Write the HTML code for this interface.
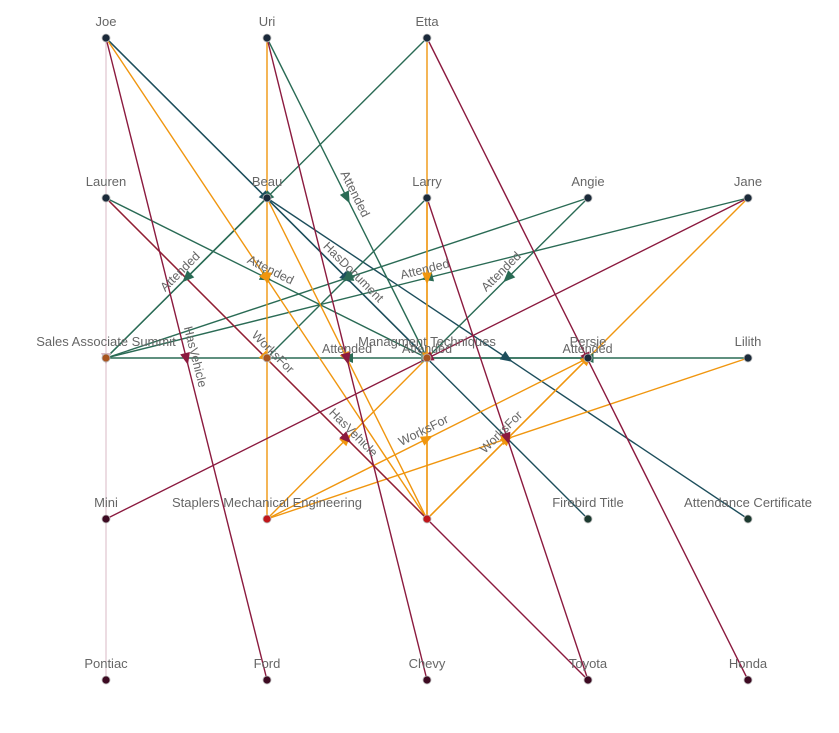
<!DOCTYPE html>
<html><head><meta charset="utf-8"><style>
html,body{margin:0;padding:0;background:#fff;}
svg{display:block;font-family:"Liberation Sans",sans-serif;}
</style></head><body>
<svg id="s" width="839" height="733" viewBox="0 0 839 733" xmlns="http://www.w3.org/2000/svg"></svg>
<script>
var N={J:[106,38,'Joe','#1b2a3a'],U:[267,38,'Uri','#1b2a3a'],E:[427,38,'Etta','#1b2a3a'],
La:[106,198,'Lauren','#1b2a3a'],B:[267,198,'Beau','#1b2a3a'],Lr:[427,198,'Larry','#1b2a3a'],An:[588,198,'Angie','#1b2a3a'],Ja:[748,198,'Jane','#1b2a3a'],
S:[106,358,'Sales Associate Summit','#a8541f'],W:[267,358,'','#a8541f'],M:[427,358,'Managment Techniques','#a8541f'],P:[588,358,'Persie','#1b2a3a'],Li:[748,358,'Lilith','#1b2a3a'],
Mi:[106,519,'Mini','#3d0a22'],St:[267,519,'Staplers Mechanical Engineering','#c0161a'],ME:[427,519,'','#c0161a'],F:[588,519,'Firebird Title','#1c3a30'],AC:[748,519,'Attendance Certificate','#1c3a30'],
Po:[106,680,'Pontiac','#3d0a22'],Fo:[267,680,'Ford','#3d0a22'],Ch:[427,680,'Chevy','#3d0a22'],To:[588,680,'Toyota','#3d0a22'],Ho:[748,680,'Honda','#3d0a22']};
var G='#2a6b55',T='#1d4e5c',O='#f0960f',R='#8b1a3f',PK='#d8b8c4',GR='#7a9a8a';
var E=[
['J','Po',PK,''],['S','Li',GR,'Attended'],
['J','F',T,'HasDocument'],['J','M',T,''],['B','AC',T,''],
['E','S',G,''],['B','S',G,'Attended'],['U','M',G,'Attended'],['La','M',G,'Attended'],['Lr','W',G,''],
['Ja','S',G,'Attended'],['An','S',G,''],['An','M',G,'Attended'],['P','S',G,'Attended'],['Li','M',G,'Attended'],
['U','St',O,''],['E','ME',O,''],['J','ME',O,''],['B','ME',O,''],['La','ME',O,'WorksFor'],['Lr','ME',O,''],
['ME','P',O,'WorksFor'],['ME','Ja',O,''],['St','P',O,'WorksFor'],['St','Li',O,''],['St','M',O,''],
['J','Fo',R,'HasVehicle'],['U','Ch',R,''],['E','Ho',R,''],['Lr','To',R,''],['Ja','Mi',R,''],['La','To',R,'HasVehicle']];
var h='';
E.forEach(function(e){var a=N[e[0]],b=N[e[1]];var w=(e[2]==PK||e[2]==GR)?1:1.4;
h+='<line x1="'+a[0]+'" y1="'+a[1]+'" x2="'+b[0]+'" y2="'+b[1]+'" stroke="'+e[2]+'" stroke-width="'+w+'"/>';});
E.forEach(function(e){var a=N[e[0]],b=N[e[1]];var mx=(a[0]+b[0])/2,my=(a[1]+b[1])/2;
var ang=Math.atan2(b[1]-a[1],b[0]-a[0])*180/Math.PI;
h+='<polygon points="6,0 -6,-5 -6,5" fill="'+e[2]+'" transform="translate('+mx+','+my+') rotate('+ang+')"/>';
if(e[3]){var r=ang;if(r>90)r-=180;if(r<-90)r+=180;
h+='<text x="0" y="-5" text-anchor="middle" font-size="12.5" fill="#666" transform="translate('+mx+','+my+') rotate('+r+')">'+e[3]+'</text>';}});
for(var k in N){var n=N[k];h+='<circle cx="'+n[0]+'" cy="'+n[1]+'" r="4" fill="'+n[3]+'" stroke="#bbb" stroke-width="0.8"/>';
if(n[2])h+='<text x="'+n[0]+'" y="'+(n[1]-12)+'" text-anchor="middle" font-size="13" fill="#666">'+n[2]+'</text>';}
document.getElementById('s').innerHTML=h;
</script>
</body></html>
